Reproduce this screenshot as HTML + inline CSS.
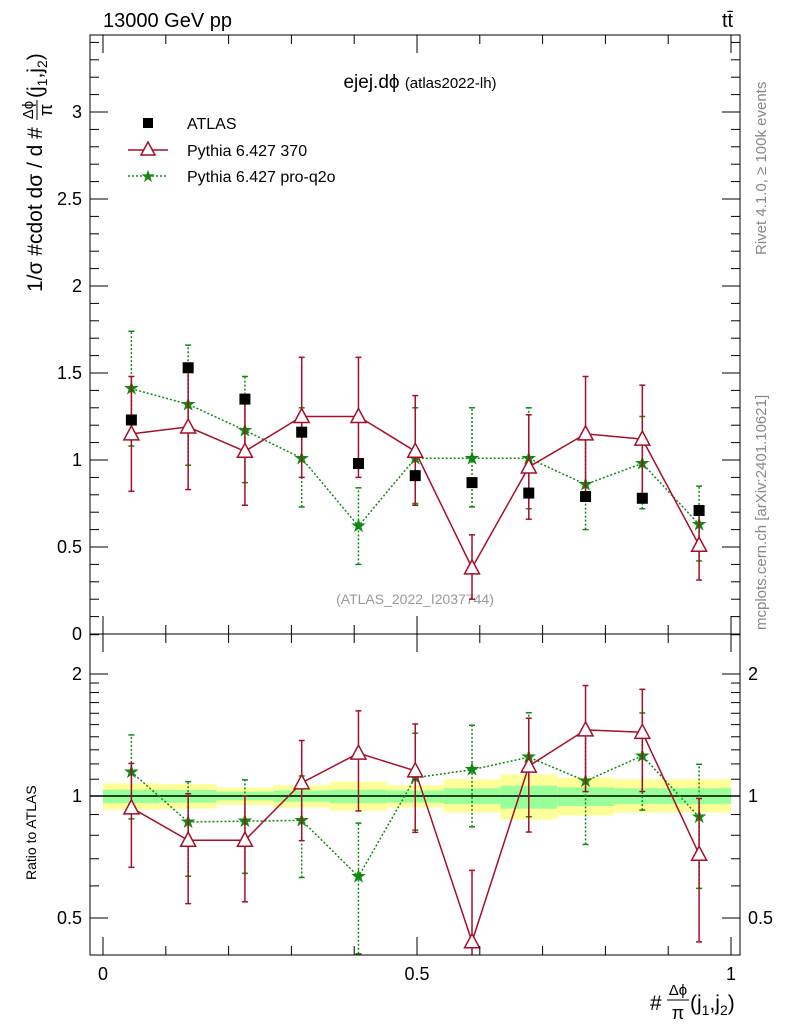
<!DOCTYPE html>
<html><head><meta charset="utf-8"><style>
body{margin:0;background:#fff}
svg{display:block;font-family:"Liberation Sans",sans-serif}
</style></head><body>
<svg id="c" width="786" height="1024" xmlns="http://www.w3.org/2000/svg">
<text x="103" y="27" font-size="20">13000 GeV pp</text>
<text x="722" y="27" font-size="20">tt̄</text>
<text x="420" y="88" font-size="19" text-anchor="middle">ejej.dϕ <tspan font-size="15">(atlas2022-lh)</tspan></text>
<text x="415" y="604" font-size="14" fill="#999" text-anchor="middle">(ATLAS_2022_I2037744)</text>
<text transform="translate(766,255) rotate(-90)" font-size="15" fill="#888">Rivet 4.1.0, ≥ 100k events</text>
<text transform="translate(766,630) rotate(-90)" font-size="15" fill="#888">mcplots.cern.ch [arXiv:2401.10621]</text>
<g transform="translate(42,292) rotate(-90)">
<text x="0" y="0" font-size="21">1/σ #cdot dσ / d #</text>
<text x="182" y="-9" font-size="15" text-anchor="middle">Δϕ</text>
<line x1="172" x2="192" y1="-5" y2="-5" stroke="#000" stroke-width="1"/>
<text x="182" y="10" font-size="18" text-anchor="middle">π</text>
<text x="194" y="0" font-size="21">(j<tspan font-size="14" dy="5">1</tspan><tspan dy="-5">,j</tspan><tspan font-size="14" dy="5">2</tspan><tspan dy="-5">)</tspan></text>
</g>
<text transform="translate(36,880) rotate(-90)" font-size="14">Ratio to ATLAS</text>
<g>
<text x="650" y="1010" font-size="21">#</text>
<text x="678" y="995" font-size="15" text-anchor="middle">Δϕ</text>
<line x1="667" x2="689" y1="1000" y2="1000" stroke="#000" stroke-width="1"/>
<text x="678" y="1019" font-size="18" text-anchor="middle">π</text>
<text x="690" y="1010" font-size="21">(j<tspan font-size="14" dy="5">1</tspan><tspan dy="-5">,j</tspan><tspan font-size="14" dy="5">2</tspan><tspan dy="-5">)</tspan></text>
</g>
<g id="main"></g><g id="ratio"></g>
<rect x="90" y="35" width="650" height="599" fill="none" stroke="#000"/>
<rect x="90" y="634" width="650" height="321" fill="none" stroke="#000"/>
<g>
<rect x="143" y="118" width="10" height="10" fill="#000"/>
<text x="187" y="129" font-size="16">ATLAS</text>
<line x1="128" y1="150" x2="168" y2="150" stroke="#a50f2a" stroke-width="1.5"/>
<polygon points="148,142 155,155 141,155" fill="#fff" stroke="#a50f2a" stroke-width="1.5"/>
<text x="187" y="156" font-size="16">Pythia 6.427 370</text>
<line x1="128" y1="176" x2="168" y2="176" stroke="#118811" stroke-width="1.5" stroke-dasharray="2,2"/>
<text x="148" y="182" font-size="17" fill="#118811" text-anchor="middle">★</text>
<text x="187" y="182" font-size="16">Pythia 6.427 pro-q2o</text>
</g>
</svg>
<script>
const nb=11;
const binW=0.0904;
const atlas=[1.23,1.53,1.35,1.16,0.98,0.91,0.87,0.81,0.79,0.78,0.71];
const p370=[1.15,1.19,1.05,1.25,1.25,1.05,0.38,0.96,1.15,1.12,0.51];
const p370lo=[0.82,0.83,0.74,0.90,0.90,0.74,0.20,0.66,0.81,0.80,0.31];
const p370hi=[1.48,1.55,1.35,1.59,1.59,1.37,0.57,1.26,1.48,1.43,0.70];
const q2o=[1.41,1.32,1.17,1.01,0.62,1.01,1.01,1.01,0.86,0.98,0.63];
const q2olo=[1.08,0.97,0.87,0.73,0.40,0.75,0.73,0.72,0.60,0.72,0.42];
const q2ohi=[1.74,1.66,1.48,1.30,0.84,1.30,1.30,1.30,1.15,1.25,0.85];
const yelHi=[1.075,1.07,1.048,1.063,1.085,1.063,1.10,1.13,1.11,1.10,1.10];
const yelLo=[0.925,0.93,0.95,0.937,0.92,0.937,0.91,0.875,0.895,0.91,0.91];
const grnHi=[1.036,1.035,1.025,1.032,1.036,1.032,1.045,1.06,1.05,1.045,1.045];
const grnLo=[0.96,0.963,0.975,0.968,0.96,0.963,0.955,0.93,0.945,0.955,0.955];
const mainTicks=["0","0.5","1","1.5","2","2.5","3"];
const ratioTicks=["0.5","1","2"];
const xTicks=["0","0.5","1"];
const NS="http://www.w3.org/2000/svg";
const X=v=>103+628*v, Y=v=>634-174*v, R=r=>796-122*Math.log2(r);
const svg=document.getElementById('c'),gm=document.getElementById('main'),gr=document.getElementById('ratio');
function el(p,t,a){const e=document.createElementNS(NS,t);for(const k in a)e.setAttribute(k,a[k]);p.appendChild(e);return e;}
const cx=i=>X((i+0.5)*binW);
const defs=el(svg,'defs',{});const cp=el(defs,'clipPath',{id:'rc'});el(cp,'rect',{x:90,y:634,width:650,height:321});
const cm=el(defs,'clipPath',{id:'mc'});el(cm,'rect',{x:90,y:35,width:650,height:599});
gr.setAttribute('clip-path','url(#rc)');gm.setAttribute('clip-path','url(#mc)');
for(let i=0;i<nb;i++){const x0=X(i*binW),x1=i==nb-1?X(1):X((i+1)*binW),w=x1-x0;
 let b=el(gr,'rect',{x:x0,y:R(yelHi[i]),width:w,height:R(yelLo[i])-R(yelHi[i]),fill:'#ffff99'});
 
 
 b=el(gr,'rect',{x:x0,y:R(grnHi[i]),width:w,height:R(grnLo[i])-R(grnHi[i]),fill:'#99ff99'});
 
 }
el(gr,'line',{x1:90,x2:740,y1:R(1),y2:R(1),stroke:'#000','stroke-width':1.5});
function tick(x1,y1,x2,y2){el(svg,'line',{x1,y1,x2,y2,stroke:'#000'});}
for(let k=0;k<=34;k++){const v=k*0.1,y=Y(v);if(y<35)break;const L=k%5==0?18:9;tick(90,y,90+L,y);tick(740,y,740-L,y);}
mainTicks.forEach(t=>{const e=el(svg,'text',{x:82,y:Y(+t)+6,'font-size':18,'text-anchor':'end'});e.textContent=t;
 
 });
for(let k=4;k<=25;k++){const r=k/10;if(k>20&&k%5)continue;const y=R(r);if(y<634||y>955)continue;const L=(k==5||k==10||k==20)?18:9;tick(90,y,90+L,y);tick(740,y,740-L,y);}
ratioTicks.forEach(t=>{let e=el(svg,'text',{x:82,y:R(+t)+6,'font-size':18,'text-anchor':'end'});e.textContent=t;
 
 
 e=el(svg,'text',{x:748,y:R(+t)+6,'font-size':18});e.textContent=t;
 
 });
for(let k=0;k<=10;k++){const x=X(k/10),L=k%5==0?18:9;tick(x,634,x,634-L);tick(x,955,x,955-L);tick(x,634,x,634+L);tick(x,35,x,35+L);}
xTicks.forEach(t=>{const e=el(svg,'text',{x:X(+t),y:980,'font-size':18,'text-anchor':'middle'});e.textContent=t;
 
 });
function series(g,vals,lo,hi,fy,col,dash,mk,name){
 let pts=vals.map((v,i)=>cx(i)+','+fy(v)).join(' ');
 const pl=el(g,'polyline',{points:pts,fill:'none',stroke:col,'stroke-width':1.5});
 if(dash)pl.setAttribute('stroke-dasharray','2,2');
 
 
 vals.forEach((v,i)=>{const x=cx(i);
  const eb=el(g,'line',{x1:x,x2:x,y1:fy(lo[i]),y2:fy(hi[i]),stroke:col,'stroke-width':1.5});
  if(dash)eb.setAttribute('stroke-dasharray','2,2');
  
  
  el(g,'line',{x1:x-3,x2:x+3,y1:fy(lo[i]),y2:fy(lo[i]),stroke:col,'stroke-width':1.5});
  el(g,'line',{x1:x-3,x2:x+3,y1:fy(hi[i]),y2:fy(hi[i]),stroke:col,'stroke-width':1.5});
  const y=fy(v);let m;
  if(mk=='tri')m=el(g,'polygon',{points:`${x},${y-8} ${x+7.5},${y+6} ${x-7.5},${y+6}`,fill:'#fff',stroke:col,'stroke-width':1.5});
  else{m=el(g,'text',{x:x,y:y+6,'font-size':19,fill:col,'text-anchor':'middle'});m.textContent='★';}
  
  });
}
series(gm,q2o,q2olo,q2ohi,Y,'#118811',true,'star','pythia-q2o');
series(gm,p370,p370lo,p370hi,Y,'#a50f2a',false,'tri','pythia-370');
atlas.forEach((v,i)=>{const r=el(gm,'rect',{x:cx(i)-5.5,y:Y(v)-5.5,width:11,height:11,fill:'#000'});
 
 });
const rr=(a)=>a.map((v,i)=>v/atlas[i]);
series(gr,rr(q2o),rr(q2olo),rr(q2ohi),R,'#118811',true,'star','ratio-q2o');
series(gr,rr(p370),rr(p370lo),rr(p370hi),R,'#a50f2a',false,'tri','ratio-370');
</script>
</body></html>
